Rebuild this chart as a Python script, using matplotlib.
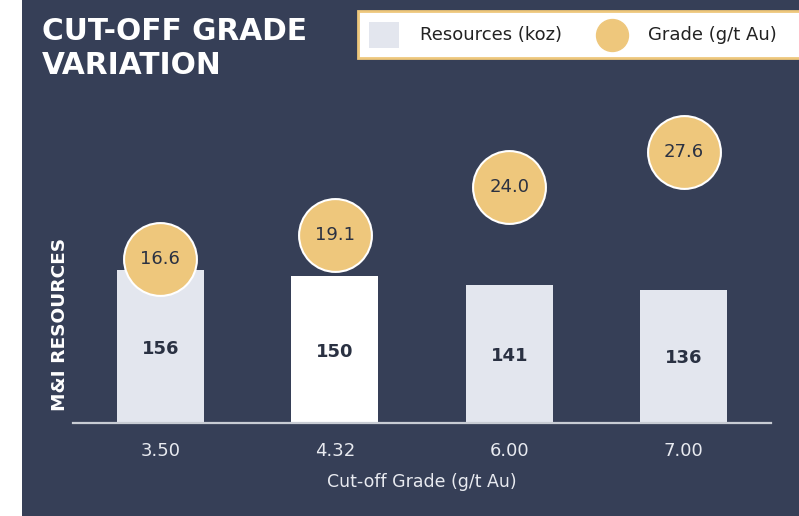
import matplotlib.pyplot as plt
from matplotlib.patches import Rectangle
from matplotlib.lines import Line2D

cutoffs = ['3.50', '4.32', '6.00', '7.00']
resources = [156, 150, 141, 136]
grades = [16.6, 19.1, 24.0, 27.6]
highlight = 1

bg = '#363F57'
bar_col = '#E3E6EE'
gold = '#EEC77C'
dark = '#2A3142'

fig = plt.figure(figsize=(7.99, 5.16), dpi=100, facecolor='white')
fig.patches.append(Rectangle((22 / 799, 0), 1, 1, transform=fig.transFigure,
                             facecolor=bg, edgecolor='none', zorder=-5))

ax = fig.add_axes([73 / 799, 93 / 516, 698 / 799, 323 / 516])
ax.set_facecolor('none')
x = list(range(len(cutoffs)))
colors = ['white' if i == highlight else bar_col for i in x]
bars = ax.bar(x, resources, width=0.5, color=colors, zorder=2)
for xi, v in zip(x, resources):
    ax.text(xi, v / 2 - 2, str(v), ha='center', va='center',
            fontsize=13, fontweight='bold', color=dark, zorder=3)
ax.set_xlim(-0.5, 3.5)
ax.set_ylim(0, 330)
ax.set_xticks(x)
ax.set_xticklabels(cutoffs, fontsize=13, color='#E8EAF0')
ax.tick_params(axis='x', length=0, pad=14)
ax.set_yticks([])
for s in ['top', 'right', 'left']:
    ax.spines[s].set_visible(False)
ax.spines['bottom'].set_color('#C8CCD4')
ax.spines['bottom'].set_linewidth(1.6)
ax.set_xlabel('Cut-off Grade (g/t Au)', fontsize=12.5, color='#E8EAF0', labelpad=9)

ax2 = ax.twinx()
ax2.set_ylim(-0.26, 32.94)
ax2.scatter(x, grades, s=2750, color=gold, edgecolor='white', linewidth=1.5, zorder=3)
for xi, g in zip(x, grades):
    ax2.text(xi, g, f'{g:.1f}', ha='center', va='center', fontsize=13, color=dark, zorder=4)
ax2.set_yticks([])
for s in ax2.spines.values():
    s.set_visible(False)

fig.text(60 / 799, 1 - 324 / 516, 'M&I RESOURCES', rotation=90, ha='center', va='center',
         fontsize=13.3, fontweight='bold', color='white')

fig.text(42 / 799, 1 - 17 / 516, 'CUT-OFF GRADE\nVARIATION', ha='left', va='top',
         fontsize=21.3, fontweight='bold', color='white', linespacing=1.2)

# legend box
fig.patches.append(Rectangle((358 / 799, 1 - 58 / 516), 460 / 799, 47 / 516,
                             transform=fig.transFigure, facecolor='white',
                             edgecolor=gold, linewidth=2, zorder=5))
fig.patches.append(Rectangle((369 / 799, 1 - 48 / 516), 30 / 799, 26 / 516,
                             transform=fig.transFigure, facecolor=bar_col,
                             edgecolor='none', zorder=6))
fig.text(420 / 799, 1 - 35 / 516, 'Resources (koz)', ha='left', va='center',
         fontsize=13, color='#222222', zorder=6)
fig.lines.append(Line2D([612 / 799], [1 - 35 / 516], transform=fig.transFigure,
                        marker='o', markersize=23, color=gold, linestyle='none', zorder=6))
fig.text(648 / 799, 1 - 35 / 516, 'Grade (g/t Au)', ha='left', va='center',
         fontsize=13, color='#222222', zorder=6)

fig.savefig('out.png', dpi=100, facecolor=fig.get_facecolor())
